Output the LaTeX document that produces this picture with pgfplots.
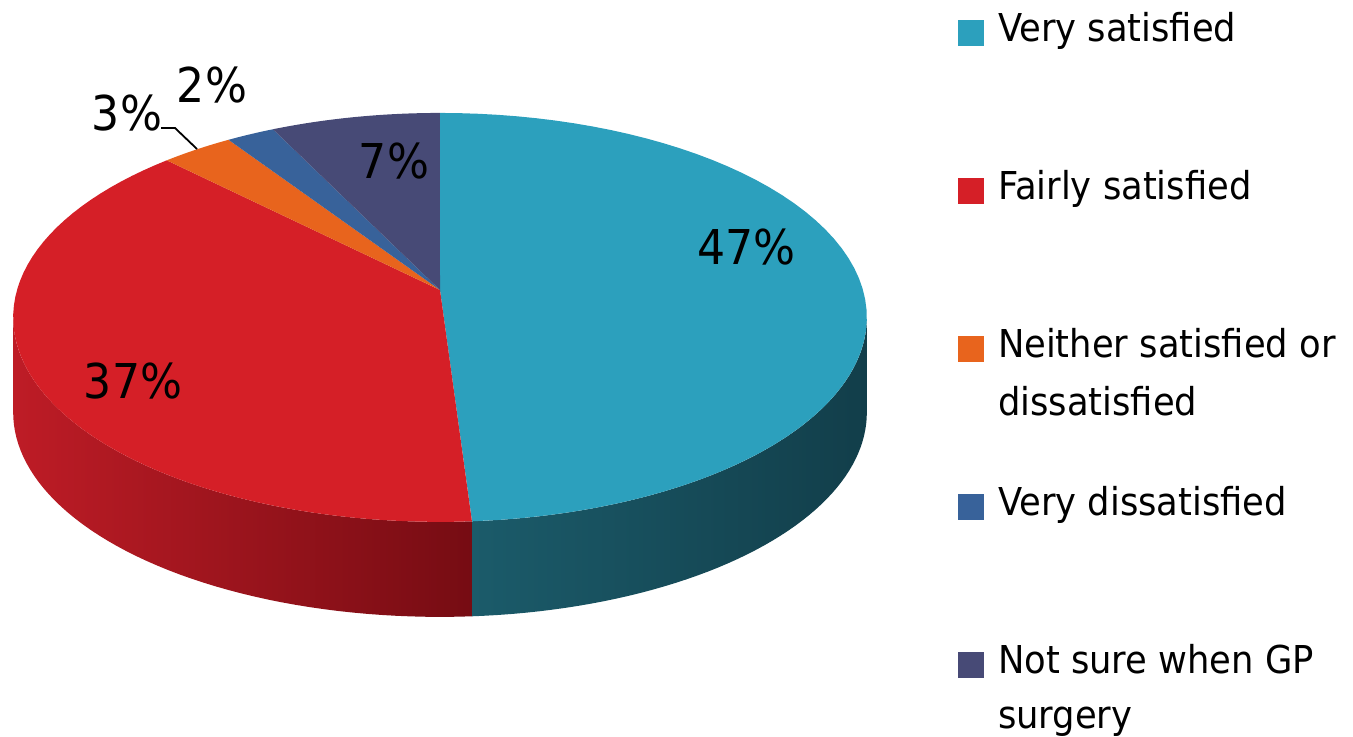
\documentclass[border=0pt]{standalone}
\usepackage{pgfplots}
\pgfplotsset{compat=1.18}
\usepackage{pgfplotstable}
\usepackage{fontspec}
\setmainfont[FakeStretch=0.92]{DejaVu Sans}

\definecolor{cVS}{HTML}{2CA0BD}
\definecolor{cFS}{HTML}{D51F27}
\definecolor{cNE}{HTML}{E8641D}
\definecolor{cVD}{HTML}{38629A}
\definecolor{cNS}{HTML}{474A76}
\definecolor{redL}{HTML}{BE1C26}
\definecolor{redR}{HTML}{760C13}
\definecolor{tealL}{HTML}{1B5B6A}
\definecolor{tealM}{HTML}{15434F}
\definecolor{tealR}{HTML}{123E4A}

% share of respondents, in order: Very satisfied, Fairly satisfied,
% Neither, Very dissatisfied, Not sure
\pgfplotstableread{
value
47
37
3
2
7
}\piedata
\pgfplotstablegetelem{0}{value}\of\piedata\let\vA\pgfplotsretval
\pgfplotstablegetelem{1}{value}\of\piedata\let\vB\pgfplotsretval
\pgfplotstablegetelem{2}{value}\of\piedata\let\vC\pgfplotsretval
\pgfplotstablegetelem{3}{value}\of\piedata\let\vD\pgfplotsretval
\pgfplotstablegetelem{4}{value}\of\piedata\let\vE\pgfplotsretval
\pgfmathsetmacro\tot{\vA+\vB+\vC+\vD+\vE}
\pgfmathsetmacro\aA{3.6*(\vA/\tot)*100}
\pgfmathsetmacro\aB{\aA+3.6*(\vB/\tot)*100}
\pgfmathsetmacro\aC{\aB+3.6*(\vC/\tot)*100}
\pgfmathsetmacro\aD{\aC+3.6*(\vD/\tot)*100}
\pgfmathsetmacro\aE{\aD+3.6*(\vE/\tot)*100}
\pgfmathsetmacro\psiR{acos(-0.134)}
\pgfmathsetmacro\psiL{360-\psiR}

\newcommand\pctfont{\fontsize{24}{28}\selectfont}
\newcommand\legfont{\fontsize{19.2}{29}\selectfont}

% top face sector of a slice between angles #2 and #3
\newcommand\sector[3]{%
  \addplot[forget plot, draw=none, fill=#1, domain=0:61, samples=62, variable=\t]
  ({px(rr(\t), #2+(\t-1)*(#3-#2)/59)}, {py(rr(\t), #2+(\t-1)*(#3-#2)/59)});
}
% visible side wall between angles #2 and #3
\newcommand\sidewall[3]{%
  \addplot[forget plot, draw=none, #1, domain=0:99, samples=100, variable=\t]
  ({px(1, angS(\t,#2,#3))}, {py(1, angS(\t,#2,#3)) + 95*(\t>49.5)});
}

\pgfplotsset{sq legend/.style={legend image code/.code={%
  \fill[##1, draw=none] (0pt,-2.5pt) rectangle (13pt,10.5pt);}}}

\begin{document}
\begin{tikzpicture}[
  declare function={
    px(\r,\a)=440+423*\r*sin(\a)/(1+0.134*\r*cos(\a));
    py(\r,\a)=290-200.8*\r*cos(\a)/(1+0.134*\r*cos(\a));
    rr(\s)=(\s>0.5)*(\s<60.5);
    angS(\s,\p,\q)=\p+(\q-\p)*((\s<49.5)*\s/49+(\s>49.5)*(99-\s)/49);
  }]
\begin{axis}[
  scale only axis, width=676.5pt, height=368pt,
  xmin=0, xmax=1353, ymin=0, ymax=736, y dir=reverse,
  hide axis, clip=false,
  legend style={at={(axis cs:958,13)}, anchor=north west, draw=none, fill=none,
    inner sep=0pt, outer sep=0pt, row sep=0pt, column sep=7pt, font=\legfont,
    cells={anchor=base west},
    nodes={inner sep=0pt, outer sep=0pt, text height=14pt, text depth=65pt, anchor=base west}},
]
\addlegendimage{sq legend, draw=none, fill=cVS}
\addlegendentry{Very satisfied}
\addlegendimage{sq legend, draw=none, fill=cFS}
\addlegendentry{Fairly satisfied}
\addlegendimage{sq legend, draw=none, fill=cNE}
\addlegendentry{\parbox[t]{9cm}{Neither satisfied or\\dissatisfied}}
\addlegendimage{sq legend, draw=none, fill=cVD}
\addlegendentry{Very dissatisfied}
\addlegendimage{sq legend, draw=none, fill=cNS}
\addlegendentry{\parbox[t]{9cm}{Not sure when GP\\[-1.5pt]surgery}}

% side walls
\sidewall{left color=tealL, middle color=tealM, right color=tealR}{\psiR}{\aA}
\sidewall{left color=redL, right color=redR}{\aA}{\psiL}
% top face
\sector{cVS}{0}{\aA}
\sector{cFS}{\aA}{\aB}
\sector{cNE}{\aB}{\aC}
\sector{cVD}{\aC}{\aD}
\sector{cNS}{\aD}{\aE}

% leader line for 3%
\addplot[forget plot, black, line width=0.9pt] coordinates {(161,128) (175,128) (197,149)};

\node[anchor=base, font=\pctfont] at (axis cs:746.5,264) {47\%};
\node[anchor=base, font=\pctfont] at (axis cs:133,398) {37\%};
\node[anchor=base, font=\pctfont] at (axis cs:394,178) {7\%};
\node[anchor=base, font=\pctfont] at (axis cs:127,130) {3\%};
\node[anchor=base, font=\pctfont] at (axis cs:212,102) {2\%};
\end{axis}
\pgfresetboundingbox
\path (current axis.south west) rectangle (current axis.north east);
\end{tikzpicture}
\end{document}
